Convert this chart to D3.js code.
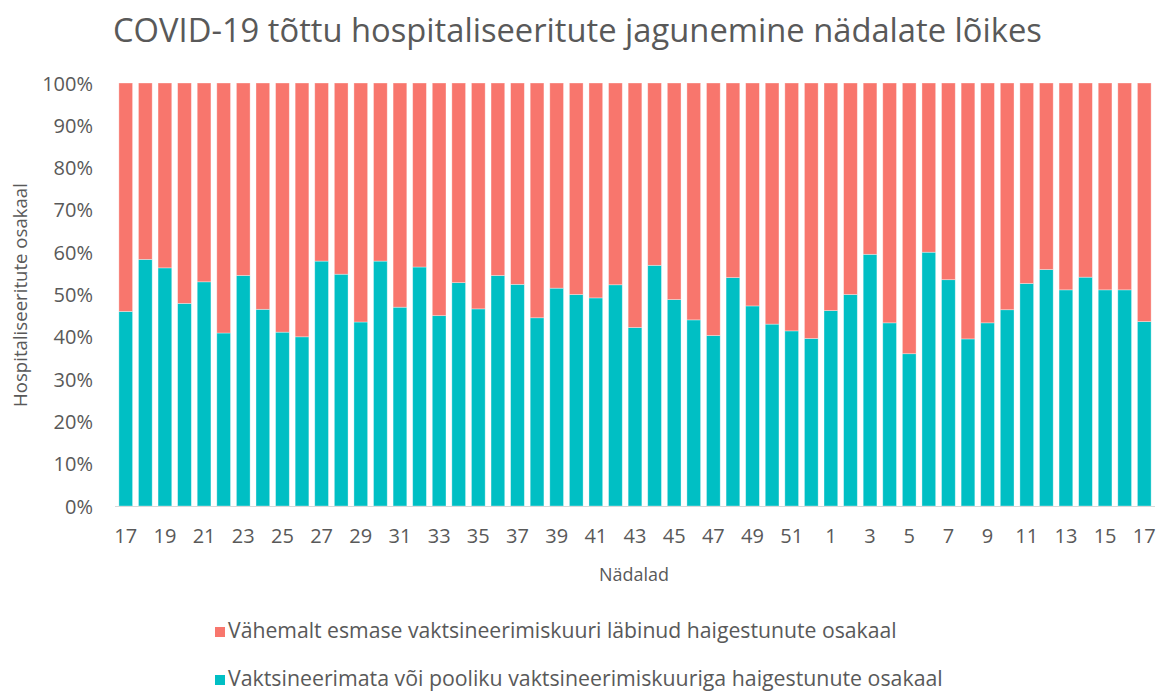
<!DOCTYPE html>
<html>
<head>
<meta charset="utf-8">
<script src="https://cdn.jsdelivr.net/npm/d3@7"></script>
<style>
  html, body { margin: 0; padding: 0; background: #ffffff; }
  svg { display: block; }
  text { font-family: "Open Sans", Lato, "Noto Sans", sans-serif; fill: #595959; }
</style>
</head>
<body>
<svg id="chart" width="1161" height="697"></svg>
<script>
// ---- data ----
const weeks = [17,18,19,20,21,22,23,24,25,26,27,28,29,30,31,32,33,34,35,36,37,38,39,40,41,42,43,44,45,46,47,48,49,50,51,52,
               1,2,3,4,5,6,7,8,9,10,11,12,13,14,15,16,17];
const unvaccinated = [46.0,58.3,56.3,47.9,53.0,40.9,54.5,46.5,41.1,40.0,57.9,54.8,43.5,57.9,47.0,56.5,45.0,52.8,46.6,54.5,
                      52.4,44.5,51.5,50.0,49.2,52.3,42.2,56.9,48.8,44.0,40.3,54.0,47.3,43.0,41.4,39.6,
                      46.2,50.0,59.5,43.3,36.0,60.0,53.5,39.5,43.3,46.4,52.6,55.9,51.1,54.1,51.1,51.1,43.6];
const vaccinated = unvaccinated.map(v => 100 - v);
const yTicks = [0,10,20,30,40,50,60,70,80,90,100];
const seriesNames = ["Vähemalt esmase vaktsineerimiskuuri läbinud haigestunute osakaal",
                     "Vaktsineerimata või pooliku vaktsineerimiskuuriga haigestunute osakaal"];
const colors = ["#F8766D", "#00BFC4"];
const title = "COVID-19 tõttu hospitaliseeritute jagunemine nädalate lõikes";
const xTitle = "Nädalad";
const yTitle = "Hospitaliseeritute osakaal";

// ---- chart ----
const svg = d3.select("#chart");
const plot = {left: 113, right: 1157, top: 83, bottom: 506};

const keys = weeks.map((w, i) => i);
const x = d3.scaleBand().domain(keys).range([plot.left, plot.right]).padding(0.3);
const y = d3.scaleLinear().domain([0, 100]).range([plot.bottom, plot.top]);

function fitText(sel, targetWidth) {
  const node = sel.node();
  const fs = parseFloat(sel.attr("font-size"));
  const w = node.getComputedTextLength();
  if (w > 0) sel.attr("font-size", (fs * targetWidth / w).toFixed(2));
}

// title
const t = svg.append("text").attr("x", 113).attr("y", 42).attr("font-size", 32).text(title);
fitText(t, 929);

// stacked bars
const rows = keys.map(i => ({i, unv: unvaccinated[i], vac: vaccinated[i]}));
const stack = d3.stack().keys(["unv", "vac"])(rows);
const fillFor = {unv: colors[1], vac: colors[0]};
svg.append("g").selectAll("g").data(stack).join("g")
  .attr("fill", d => fillFor[d.key])
  .selectAll("rect").data(d => d).join("rect")
  .attr("x", d => x(d.data.i))
  .attr("width", x.bandwidth())
  .attr("y", d => y(d[1]))
  .attr("height", d => y(d[0]) - y(d[1]))
  .attr("stroke", "rgba(255,255,255,0.45)")
  .attr("stroke-width", 0.75);

// x axis line
svg.append("line").attr("x1", plot.left + 2).attr("x2", plot.right - 2)
  .attr("y1", plot.bottom + 0.5).attr("y2", plot.bottom + 0.5)
  .attr("stroke", "#d9d9d9").attr("stroke-width", 1);

// y axis
const yAxis = d3.axisLeft(y).tickValues(yTicks).tickFormat(d => d + "%").tickSize(0).tickPadding(0);
const yg = svg.append("g").attr("transform", "translate(93,0)").call(yAxis);
yg.select(".domain").remove();
yg.selectAll("text").attr("font-size", 20).attr("fill", "#595959")
  .style("font-family", '"Open Sans", Lato, sans-serif').attr("dy", "0.35em");

// x axis
const xAxis = d3.axisBottom(x).tickValues(keys.filter(i => i % 2 === 0))
  .tickFormat(i => weeks[i]).tickSize(0).tickPadding(0);
const xg = svg.append("g").attr("transform", "translate(0,527)").call(xAxis);
xg.select(".domain").remove();
xg.selectAll("text").attr("font-size", 20).attr("fill", "#595959")
  .style("font-family", '"Open Sans", Lato, sans-serif').attr("dy", "0.78em");

// axis titles
const xt = svg.append("text").attr("x", 634).attr("y", 581).attr("text-anchor", "middle")
  .attr("font-size", 16).text(xTitle);
fitText(xt, 70);
const yt = svg.append("text").attr("transform", "translate(27,295) rotate(-90)").attr("text-anchor", "middle")
  .attr("font-size", 16).text(yTitle);
fitText(yt, 224);

// legend
const legendY = [637, 685];
const targetW = [669, 715];
seriesNames.forEach((name, i) => {
  svg.append("rect").attr("x", 215).attr("y", legendY[i] - 10).attr("width", 10).attr("height", 10)
    .attr("fill", colors[i]);
  const lt = svg.append("text").attr("x", 228).attr("y", legendY[i] + 1).attr("font-size", 18).text(name);
  fitText(lt, targetW[i]);
});
</script>
</body>
</html>
